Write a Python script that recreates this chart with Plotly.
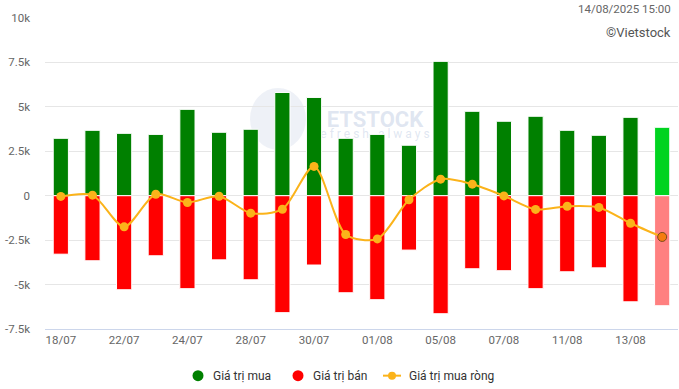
import plotly.graph_objects as go

dates = ["18/07", "21/07", "22/07", "23/07", "24/07", "25/07", "28/07", "29/07", "30/07", "31/07",
         "01/08", "04/08", "05/08", "06/08", "07/08", "08/08", "11/08", "12/08", "13/08", "14/08"]
buy = [3230, 3680, 3510, 3450, 4860, 3570, 3740, 5810, 5530, 3230,
       3450, 2840, 7560, 4750, 4190, 4470, 3680, 3400, 4410, 3850]
sell = [-3290, -3660, -5290, -3380, -5230, -3610, -4730, -6580, -3900, -5460,
        -5850, -3060, -6640, -4110, -4220, -5230, -4280, -4060, -5970, -6190]
net = [-40, 30, -1750, 80, -380, -30, -980, -760, 1650, -2180,
       -2430, -230, 930, 650, -10, -770, -590, -660, -1550, -2320]

series_names = ["Giá trị mua", "Giá trị bán", "Giá trị mua ròng"]
ytick_vals = [-7500, -5000, -2500, 0, 2500, 5000, 7500, 10000]
ytick_text = ["-7.5k", "-5k", "-2.5k", "0", "2.5k", "5k", "7.5k", "10k"]
xtick_labels = dates[::2]

GREEN = "#008000"
RED = "#ff0000"
LINE = "#fbb31a"

n = len(dates)
buy_colors = [GREEN] * (n - 1) + ["#00d320"]
sell_colors = [RED] * (n - 1) + ["#ff8080"]
m_colors = [LINE] * (n - 1) + ["#f57c0f"]
m_line_colors = [LINE] * (n - 1) + ["#7a4a1a"]
m_line_widths = [0] * (n - 1) + [1]

fig = go.Figure()
fig.add_trace(go.Bar(x=dates, y=buy, marker=dict(color=buy_colors, line=dict(color="white", width=1)),
                     width=0.48, showlegend=False, name=series_names[0]))
fig.add_trace(go.Bar(x=dates, y=sell, marker=dict(color=sell_colors, line=dict(color="white", width=1)),
                     width=0.48, showlegend=False, name=series_names[1]))
fig.add_trace(go.Scatter(x=dates, y=net, mode="lines+markers", name=series_names[2],
                         line=dict(color=LINE, width=2, shape="spline", smoothing=0.8),
                         marker=dict(size=9, color=m_colors,
                                     line=dict(color=m_line_colors, width=m_line_widths)),
                         showlegend=False))

# pixel -> paper helpers (plot area: x 45..678, y 18..329.3)
L, T, PW, PH = 45.0, 18.0, 633.0, 311.3
def px(x):
    return (x - L) / PW
def py(y):
    return (T + PH - y) / PH

wm = "rgba(185,200,225,0.45)"
shapes = [
    dict(type="circle", xref="paper", yref="paper",
         x0=px(250), x1=px(306), y0=py(150), y1=py(88),
         fillcolor="rgba(205,215,232,0.35)", line=dict(width=0), layer="below"),
    dict(type="rect", xref="paper", yref="paper",
         x0=px(318), x1=px(432), y0=py(128), y1=py(108),
         fillcolor="rgba(0,0,0,0)", line=dict(width=0), layer="below",
         label=dict(text="<b>ETSTOCK</b>", font=dict(size=22, color=wm, family="Roboto"))),
    dict(type="rect", xref="paper", yref="paper",
         x0=px(318), x1=px(432), y0=py(140), y1=py(126),
         fillcolor="rgba(0,0,0,0)", line=dict(width=0), layer="below",
         label=dict(text="e f r e s h   a l w a y s", font=dict(size=12, color=wm, family="Roboto"))),
]

# legend (drawn manually to match spacing)
LEG_Y = 376
leg_items = [(198, GREEN, "circle"), (298, RED, "circle"), (392, LINE, "line")]
annotations = []
for (cx, col, kind), name in zip(leg_items, series_names):
    if kind == "circle":
        r = 5.5
        shapes.append(dict(type="circle", xref="paper", yref="paper",
                           x0=px(cx - r), x1=px(cx + r), y0=py(LEG_Y + r), y1=py(LEG_Y - r),
                           fillcolor=col, line=dict(width=0)))
        tx = cx + 13
    else:
        shapes.append(dict(type="line", xref="paper", yref="paper",
                           x0=px(cx - 9), x1=px(cx + 9), y0=py(LEG_Y), y1=py(LEG_Y),
                           line=dict(color=col, width=2)))
        r = 4
        shapes.append(dict(type="circle", xref="paper", yref="paper",
                           x0=px(cx - r), x1=px(cx + r), y0=py(LEG_Y + r), y1=py(LEG_Y - r),
                           fillcolor=col, line=dict(width=0)))
        tx = cx + 15
    annotations.append(dict(text=name, xref="paper", yref="paper", x=px(tx), y=py(LEG_Y),
                            xanchor="left", yanchor="middle", showarrow=False,
                            font=dict(size=12, color="#333333")))

annotations += [
    dict(text="14/08/2025 15:00", xref="paper", yref="paper", x=px(673), y=py(9),
         xanchor="right", yanchor="middle", showarrow=False,
         font=dict(size=11.5, color="#666666")),
    dict(text="©Vietstock", xref="paper", yref="paper", x=px(673), y=py(33),
         xanchor="right", yanchor="middle", showarrow=False,
         font=dict(size=13, color="#555555")),
]

fig.update_layout(
    width=679, height=389,
    margin=dict(l=45, r=1, t=18, b=60),
    paper_bgcolor="white", plot_bgcolor="white",
    barmode="relative", bargap=0.52,
    font=dict(family="Roboto, Arial, sans-serif", color="#666666", size=11),
    shapes=shapes, annotations=annotations,
    showlegend=False,
)
fig.update_xaxes(type="category", tickmode="array", tickvals=xtick_labels, ticktext=xtick_labels,
                 showgrid=False, showline=True, linecolor="#ccd6eb", linewidth=1,
                 ticks="", tickfont=dict(size=11.5, color="#666666"), range=[-0.5, n - 0.5],
                 fixedrange=True)
fig.update_yaxes(range=[-7500, 10000], tickvals=ytick_vals, ticktext=ytick_text,
                 showgrid=True, gridcolor="#e6e6e6", gridwidth=1, zeroline=False,
                 ticklabelstandoff=14, tickfont=dict(size=11.5, color="#666666"))

fig.write_html("out.html", config={"displayModeBar": False},
               post_script="document.body.style.margin='0px';document.body.style.overflow='hidden';")
